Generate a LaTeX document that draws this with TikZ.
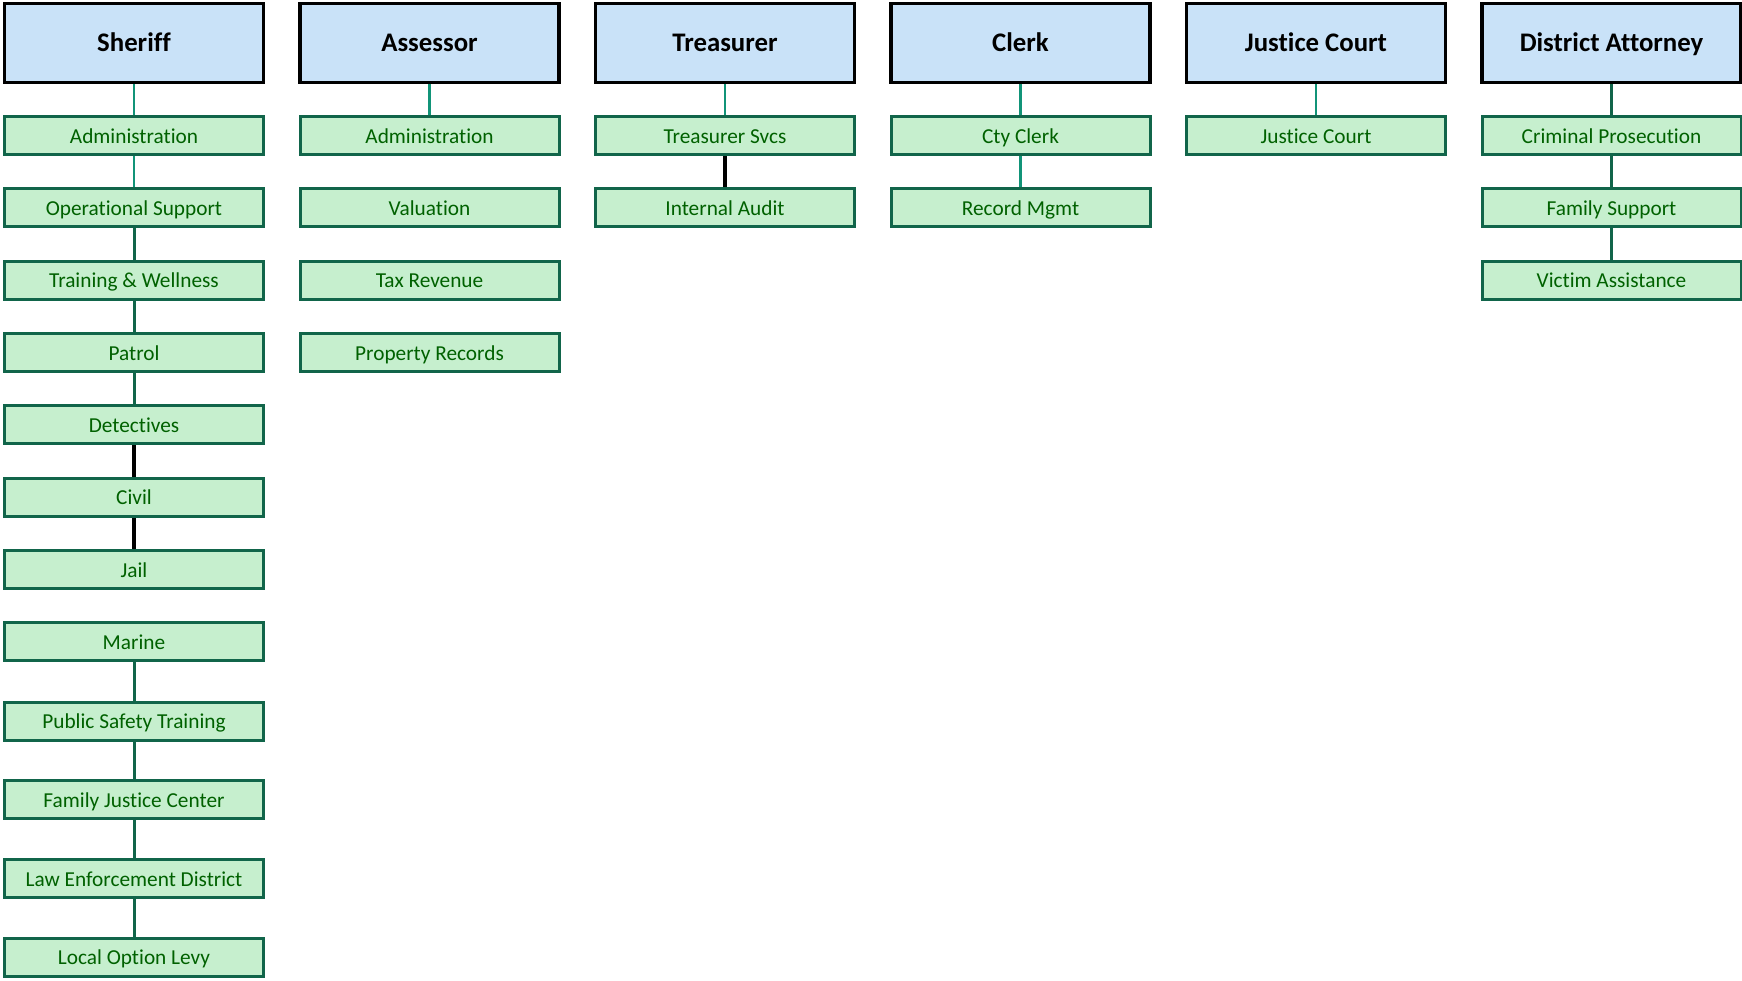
\documentclass[tikz,border=0pt]{standalone}
\usepackage{fontspec}
\setmainfont{Carlito}[Ligatures=NoCommon]
\usetikzlibrary{backgrounds}
\definecolor{headfill}{HTML}{C9E2F8}
\definecolor{subfill}{HTML}{C6EFCE}
\definecolor{subdraw}{HTML}{11654A}
\definecolor{subtext}{HTML}{006100}
\definecolor{teal}{HTML}{119478}
\begin{document}
\begin{tikzpicture}[x=1pt,y=-1pt,
  head/.style={draw=black,line width=3.3pt,fill=headfill,minimum width=259pt,minimum height=78.5pt,inner sep=0pt,
    text height=19pt,text depth=2pt,
    font=\fontsize{26.8pt}{30pt}\selectfont\bfseries,text=black},
  sub/.style={draw=subdraw,line width=3pt,fill=subfill,minimum width=259pt,minimum height=38pt,inner sep=0pt,
    text height=15.5pt,text depth=0pt,
    font=\fontsize{21.3pt}{24pt}\selectfont,text=subtext},
  conT/.style={draw=teal,line width=2.6pt},
  conG/.style={draw=subdraw,line width=3pt},
  conK/.style={draw=black,line width=3.4pt}]
\useasboundingbox (0,0) rectangle (1742,980);
% heads
\node[head] (h1) at (134,43) {Sheriff};
\node[head] (h2) at (429.5,43) {Assessor};
\node[head] (h3) at (725,43) {Treasurer};
\node[head] (h4) at (1020.5,43) {Clerk};
\node[head] (h5) at (1316,43) {Justice Court};
\node[head] (h6) at (1611.5,43) {District Attorney};
% Sheriff
\node[sub] (s1) at (134,135.5) {Administration};
\node[sub] (s2) at (134,207.8) {Operational Support};
\node[sub] (s3) at (134,280.1) {Training \& Wellness};
\node[sub] (s4) at (134,352.4) {Patrol};
\node[sub] (s5) at (134,424.7) {Detectives};
\node[sub] (s6) at (134,497) {Civil};
\node[sub] (s7) at (134,569.3) {Jail};
\node[sub] (s8) at (134,641.6) {Marine};
\node[sub] (s9) at (134,721) {Public Safety Training};
\node[sub] (s10) at (134,799.7) {Family Justice Center};
\node[sub] (s11) at (134,878.4) {Law Enforcement District};
\node[sub] (s12) at (134,957.1) {Local Option Levy};
% Assessor
\node[sub] (a1) at (429.5,135.5) {Administration};
\node[sub] (a2) at (429.5,207.8) {Valuation};
\node[sub] (a3) at (429.5,280.1) {Tax Revenue};
\node[sub] (a4) at (429.5,352.4) {Property Records};
% Treasurer
\node[sub] (t1) at (725,135.5) {Treasurer Svcs};
\node[sub] (t2) at (725,207.8) {Internal Audit};
% Clerk
\node[sub] (c1) at (1020.5,135.5) {Cty Clerk};
\node[sub] (c2) at (1020.5,207.8) {Record Mgmt};
% Justice Court
\node[sub] (j1) at (1316,135.5) {Justice Court};
% DA
\node[sub] (d1) at (1611.5,135.5) {Criminal Prosecution};
\node[sub] (d2) at (1611.5,207.8) {Family Support};
\node[sub] (d3) at (1611.5,280.1) {Victim Assistance};
\begin{scope}[on background layer]
\draw[conT] (h1.south) -- (s1.north);
\draw[conT] (s1.south) -- (s2.north);
\draw[conG] (s2.south) -- (s3.north);
\draw[conG] (s3.south) -- (s4.north);
\draw[conG] (s4.south) -- (s5.north);
\draw[conK] (s5.south) -- (s6.north);
\draw[conK] (s6.south) -- (s7.north);
\draw[conG] (s8.south) -- (s9.north);
\draw[conG] (s9.south) -- (s10.north);
\draw[conG] (s10.south) -- (s11.north);
\draw[conG] (s11.south) -- (s12.north);
\draw[conT] (h2.south) -- (a1.north);
\draw[conT] (h3.south) -- (t1.north);
\draw[conK] (t1.south) -- (t2.north);
\draw[conT] (h4.south) -- (c1.north);
\draw[conT] (c1.south) -- (c2.north);
\draw[conT] (h5.south) -- (j1.north);
\draw[conG] (h6.south) -- (d1.north);
\draw[conG] (d1.south) -- (d2.north);
\draw[conG] (d2.south) -- (d3.north);
\end{scope}
\end{tikzpicture}
\end{document}
